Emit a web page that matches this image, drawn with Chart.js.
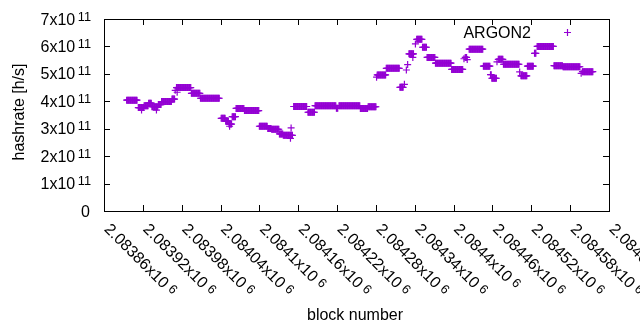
<!DOCTYPE html>
<html lang="en">
<head>
    <meta charset="utf-8" />
    <title>ARGON2 hashrate</title>
    <style>
        body { margin: 0; background: #fff; }
        #wrap { width: 640px; height: 330px; }
    </style>
</head>
<body>
<div id="wrap"><canvas id="hashChart" width="640" height="330"></canvas></div>

<script src="https://cdn.jsdelivr.net/npm/chart.js"></script>
<script>
    // runs of consecutive blocks that share the same hashrate
    const runStart = [
        2083895, 2083913, 2083918, 2083922, 2083929, 2083934, 2083941, 2083944, 2083949, 2083965,
        2083970, 2083973, 2083972, 2083995, 2084009, 2084041, 2084048, 2084053, 2084054, 2084058,
        2084064, 2084077, 2084100, 2084113, 2084119, 2084131, 2084137, 2084149, 2084148, 2084153,
        2084175, 2084186, 2084219, 2084223, 2084256, 2084268, 2084281, 2084282, 2084296, 2084317,
        2084324, 2084327, 2084329, 2084331, 2084337, 2084341, 2084343, 2084352, 2084359, 2084372,
        2084397, 2084416, 2084418, 2084421, 2084424, 2084446, 2084457, 2084459, 2084467, 2084469,
        2084477, 2084502, 2084504, 2084514, 2084525, 2084529, 2084555, 2084569, 2084597, 2084599
    ];
    const runEnd = [
        2083911, 2083921, 2083918, 2083928, 2083933, 2083943, 2083941, 2083948, 2083964, 2083969,
        2083970, 2083973, 2083994, 2084008, 2084038, 2084047, 2084052, 2084057, 2084054, 2084063,
        2084076, 2084099, 2084112, 2084118, 2084130, 2084136, 2084151, 2084149, 2084148, 2084173,
        2084185, 2084218, 2084221, 2084255, 2084267, 2084280, 2084281, 2084295, 2084316, 2084322,
        2084324, 2084327, 2084329, 2084338, 2084337, 2084341, 2084351, 2084358, 2084371, 2084396,
        2084414, 2084416, 2084420, 2084421, 2084445, 2084456, 2084458, 2084466, 2084467, 2084476,
        2084501, 2084502, 2084513, 2084523, 2084527, 2084554, 2084568, 2084595, 2084597, 2084615
    ];
    const runRate = [
        4.04e11, 3.77e11, 3.68e11, 3.84e11, 3.93e11, 3.80e11, 3.68e11, 3.88e11, 3.99e11, 4.08e11,
        4.40e11, 4.33e11, 4.50e11, 4.29e11, 4.11e11, 3.38e11, 3.28e11, 3.17e11, 3.09e11, 3.44e11,
        3.74e11, 3.66e11, 3.09e11, 3.01e11, 2.98e11, 2.81e11, 2.76e11, 3.03e11, 2.65e11, 3.81e11,
        3.60e11, 3.84e11, 3.75e11, 3.84e11, 3.74e11, 3.80e11, 4.88e11, 4.96e11, 5.20e11, 4.51e11,
        4.62e11, 5.14e11, 5.34e11, 5.73e11, 5.60e11, 6.09e11, 6.26e11, 5.97e11, 5.60e11, 5.39e11,
        5.16e11, 5.55e11, 5.60e11, 5.52e11, 5.90e11, 5.28e11, 4.97e11, 4.84e11, 5.44e11, 5.53e11,
        5.35e11, 5.07e11, 4.93e11, 5.28e11, 5.75e11, 6.00e11, 5.30e11, 5.26e11, 5.02e11, 5.08e11
    ];

    const xTicks = [2083860, 2083920, 2083980, 2084040, 2084100, 2084160, 2084220,
                    2084280, 2084340, 2084400, 2084460, 2084520, 2084580, 2084640];
    const xTickLabels = ['2.08386', '2.08392', '2.08398', '2.08404', '2.0841', '2.08416', '2.08422',
                         '2.08428', '2.08434', '2.0844', '2.08446', '2.08452', '2.08458', '2.08464'];
    const xTickExp = '6';
    const yTicks = [0, 1e11, 2e11, 3e11, 4e11, 5e11, 6e11, 7e11];
    const yTickLabels = ['0', '1', '2', '3', '4', '5', '6', '7'];
    const yTickExp = '11';

    const seriesName = 'ARGON2';
    const color = '#9400d3';
    const font = '"Liberation Sans", Arial, sans-serif';

    // one point per block
    const points = [];
    for (let i = 0; i < runStart.length; i++) {
        for (let b = runStart[i]; b <= runEnd[i]; b++) {
            points.push({ x: b, y: runRate[i] });
        }
    }

    function drawCross(ctx, x, y, r) {
        ctx.beginPath();
        ctx.moveTo(x - r, y); ctx.lineTo(x + r, y);
        ctx.moveTo(x, y - r); ctx.lineTo(x, y + r);
        ctx.stroke();
    }

    const gnuFrame = {
        id: 'gnuFrame',
        afterDraw(chart) {
            const { ctx, chartArea: a, scales: { x, y } } = chart;
            ctx.save();
            ctx.strokeStyle = '#000';
            ctx.lineWidth = 1;
            ctx.strokeRect(a.left + 0.5, a.top + 0.5, a.right - a.left, a.bottom - a.top);

            ctx.beginPath();
            yTicks.forEach(v => {
                const py = Math.round(y.getPixelForValue(v)) + 0.5;
                ctx.moveTo(a.left, py); ctx.lineTo(a.left + 6, py);
                ctx.moveTo(a.right, py); ctx.lineTo(a.right - 6, py);
            });
            xTicks.forEach(v => {
                const px = Math.round(x.getPixelForValue(v)) + 0.5;
                ctx.moveTo(px, a.bottom); ctx.lineTo(px, a.bottom - 6);
                ctx.moveTo(px, a.top); ctx.lineTo(px, a.top + 6);
            });
            ctx.stroke();

            ctx.fillStyle = '#000';
            ctx.textBaseline = 'alphabetic';

            // y tick labels  "7x10^11"
            yTicks.forEach((v, i) => {
                const py = y.getPixelForValue(v);
                ctx.textAlign = 'right';
                if (yTickLabels[i] === '0') {
                    ctx.font = '16px ' + font;
                    ctx.fillText('0', 90, py + 5.5);
                    return;
                }
                ctx.font = '12.8px ' + font;
                const ew = ctx.measureText(yTickExp).width;
                ctx.fillText(yTickExp, 91, py + 1.5);
                ctx.font = '16px ' + font;
                ctx.fillText(yTickLabels[i] + 'x10', 91 - ew - 2.5, py + 5.5);
            });

            // x tick labels, rotated 45deg
            xTicks.forEach((v, i) => {
                const px = x.getPixelForValue(v);
                ctx.save();
                ctx.translate(px - 0.5, 230);
                ctx.rotate(Math.PI / 4);
                ctx.textAlign = 'left';
                ctx.font = '16px ' + font;
                const main = xTickLabels[i] + 'x10';
                const mw = ctx.measureText(main).width;
                ctx.fillText(main, 0, 0);
                ctx.font = '12.8px ' + font;
                ctx.fillText(xTickExp, mw + 4, -3);
                ctx.restore();
            });

            // axis titles
            ctx.font = '16px ' + font;
            ctx.textAlign = 'center';
            ctx.fillText('block number', 355, 320);
            ctx.save();
            ctx.translate(24, 112);
            ctx.rotate(-Math.PI / 2);
            ctx.fillText('hashrate [h/s]', 0, 0);
            ctx.restore();

            // key
            ctx.textAlign = 'right';
            ctx.fillText(seriesName, 531, 37.5);
            ctx.strokeStyle = color;
            ctx.lineWidth = 1.2;
            drawCross(ctx, 567.5, 32.5, 3.5);
            ctx.restore();
        }
    };

    const ctx = document.getElementById('hashChart').getContext('2d');
    new Chart(ctx, {
        type: 'scatter',
        data: {
            datasets: [{
                label: seriesName,
                data: points,
                pointStyle: 'cross',
                pointRadius: 3.5,
                pointBorderWidth: 1.2,
                borderColor: color,
                backgroundColor: color,
                showLine: false
            }]
        },
        options: {
            responsive: false,
            animation: false,
            events: [],
            layout: { padding: { top: 19, right: 31, left: 0, bottom: 0 } },
            scales: {
                x: {
                    type: 'linear',
                    min: 2083860,
                    max: 2084640,
                    grid: { display: false },
                    border: { display: false },
                    ticks: { display: false },
                    afterFit: s => { s.height = 119; }
                },
                y: {
                    min: 0,
                    max: 7e11,
                    grid: { display: false },
                    border: { display: false },
                    ticks: { display: false },
                    afterFit: s => { s.width = 104; }
                }
            },
            plugins: {
                legend: { display: false },
                tooltip: { enabled: false }
            }
        },
        plugins: [gnuFrame]
    });
</script>
</body>
</html>
